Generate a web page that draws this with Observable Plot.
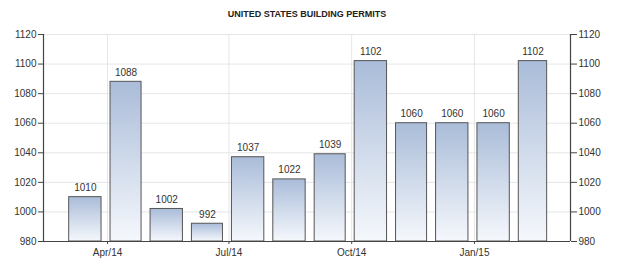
<!DOCTYPE html>
<html><head><meta charset="utf-8">
<script src="https://cdn.jsdelivr.net/npm/d3@7"></script>
<script src="https://cdn.jsdelivr.net/npm/@observablehq/plot@0.6"></script>
<style>body{margin:0;background:#fff}</style>
</head><body><div id="chart"></div>
<script>
const title = "UNITED STATES BUILDING PERMITS";
const months = ["2014-03","2014-04","2014-05","2014-06","2014-07","2014-08","2014-09","2014-10","2014-11","2014-12","2015-01","2015-02"];
const permits = [1010,1088,1002,992,1037,1022,1039,1102,1060,1060,1060,1102];
const yTicks = [980,1000,1020,1040,1060,1080,1100,1120];
const xTicks = ["2014-04-01","2014-07-01","2014-10-01","2015-01-01"];

const data = months.map((m, i) => {
  const start = new Date(m + "-01T00:00:00Z");
  return {start, end: d3.utcMonth.offset(start, 1), value: permits[i]};
});
const xTickDates = xTicks.map(s => new Date(s + "T00:00:00Z"));
const xDomain = [new Date("2014-02-12T00:00:00Z"), new Date("2015-03-14T00:00:00Z")];

const defs = () => {
  const d = d3.create("svg:defs");
  const g = d.append("linearGradient").attr("id", "barGrad").attr("x1", 0).attr("y1", 0).attr("x2", 0).attr("y2", 1);
  g.append("stop").attr("offset", "0%").attr("stop-color", "#aabcd9");
  g.append("stop").attr("offset", "100%").attr("stop-color", "#f5f8fc");
  return d.node();
};

const font = "Liberation Sans, Arial, sans-serif";

const chart = Plot.plot({
  width: 624,
  height: 269,
  marginLeft: 43,
  marginRight: 54,
  marginTop: 34,
  marginBottom: 28,
  style: {fontFamily: font, fontSize: "10px", color: "#333", background: "#fff"},
  x: {type: "utc", domain: xDomain, axis: null},
  y: {domain: [980, 1120], axis: null},
  marks: [
    defs,
    Plot.gridY(yTicks, {stroke: "#e6e6e6", strokeOpacity: 1}),
    Plot.gridX(xTickDates, {stroke: "#e6e6e6", strokeOpacity: 1}),
    Plot.rectY(data, {x1: "start", x2: "end", y1: () => 980, y2: "value", fill: "url(#barGrad)", stroke: "#555", strokeWidth: 1, insetLeft: 3, insetRight: 6}),
    Plot.text(data, {x: d => new Date((+d.start + +d.end) / 2), y: "value", text: d => String(d.value), dx: -1.5, dy: -6, lineAnchor: "bottom", fill: "#333", fontSize: 10}),
    Plot.ruleY([980], {stroke: "#444", strokeWidth: 1.2}),
    Plot.ruleX([xDomain[0], xDomain[1]], {stroke: "#444", strokeWidth: 1.2}),
    Plot.axisY(yTicks, {anchor: "left", label: null, tickSize: 5, tickPadding: 2, tickFormat: d => String(d), stroke: "#444"}),
    Plot.axisY(yTicks, {anchor: "right", label: null, tickSize: 6, tickPadding: 2, tickFormat: d => String(d), stroke: "#444"}),
    Plot.axisX(xTickDates, {label: null, tickSize: 3, tickPadding: 4, tickFormat: d3.utcFormat("%b/%y"), stroke: "#444"}),
    Plot.text([title], {frameAnchor: "top", dy: -18, lineAnchor: "bottom", fontWeight: "bold", fontSize: 9, fill: "#222"})
  ]
});
document.getElementById("chart").appendChild(chart);
</script>
</body></html>
